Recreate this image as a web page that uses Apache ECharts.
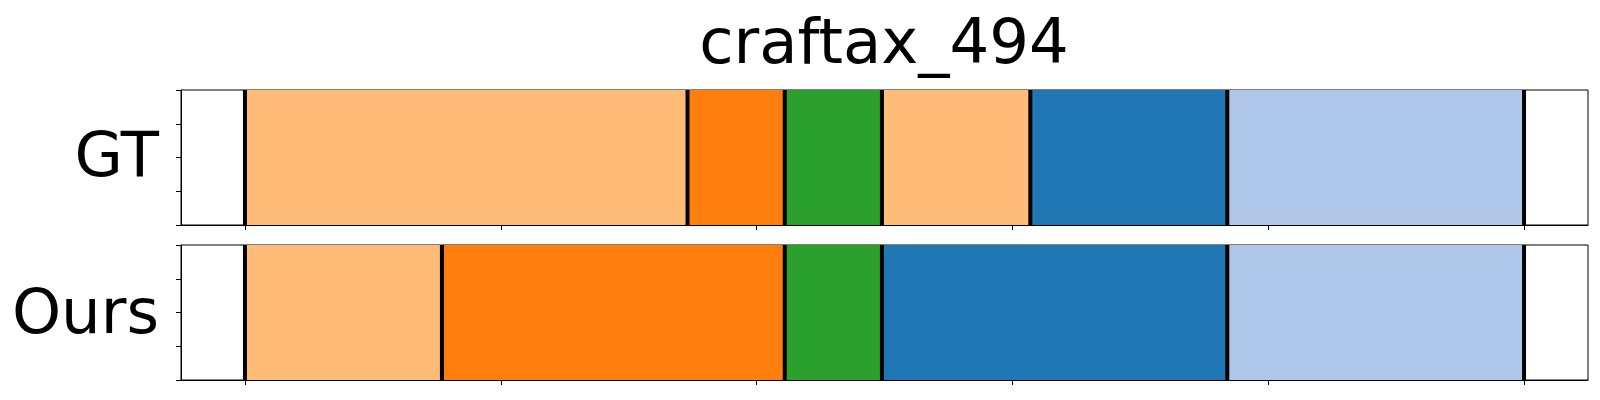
<!DOCTYPE html>
<html><head><meta charset="utf-8">
<script src="https://cdn.jsdelivr.net/npm/echarts@6/dist/echarts.min.js"></script>
<style>html,body{margin:0;padding:0;background:#fff}#c{width:1600px;height:400px}</style>
</head><body><div id="c"></div>
<script>
const chartTitle = 'craftax_494';
const rowLabels = ['GT', 'Ours'];
const gtBounds = [0, 173, 211, 249, 307, 384, 500];
const gtClasses = [0, 1, 2, 0, 3, 4];
const oursBounds = [0, 77, 211, 249, 384, 500];
const oursClasses = [0, 1, 2, 3, 4];
const classColors = ['#ffbb78', '#ff7f0e', '#2ca02c', '#1f77b4', '#aec7e8'];
const xTicks = [0, 100, 200, 300, 400, 500];
const xMin = -25, xMax = 525;

function segs(bounds, classes) {
  return classes.map((c, i) => [bounds[i], bounds[i + 1], c]);
}
const rows = [segs(gtBounds, gtClasses), segs(oursBounds, oursClasses)];
const bounds = [gtBounds, oursBounds];

const FONT = '"DejaVu Sans", sans-serif';
const FS = 62.5;
const grids = [
  { left: 181, top: 90, width: 1407, height: 135 },
  { left: 181, top: 245, width: 1407, height: 135 }
];

const option = {
  animation: false,
  backgroundColor: '#fff',
  grid: grids.map(g => Object.assign({ show: true, borderColor: '#000', borderWidth: 1, backgroundColor: 'transparent' }, g)),
  xAxis: grids.map((g, i) => ({
    type: 'value', gridIndex: i, min: xMin, max: xMax,
    axisLine: { show: true, onZero: false, lineStyle: { color: '#000', width: 1 } },
    axisTick: { show: true, customValues: xTicks, length: 5, lineStyle: { color: '#000', width: 1 } },
    axisLabel: { show: false },
    splitLine: { show: false }
  })),
  yAxis: grids.map((g, i) => ({
    type: 'value', gridIndex: i, min: 0, max: 1, interval: 0.25,
    axisLine: { show: true, onZero: false, lineStyle: { color: '#000', width: 1 } },
    axisTick: { show: true, length: 5, lineStyle: { color: '#000', width: 1 } },
    axisLabel: { show: false },
    splitLine: { show: false }
  })),
  series: [].concat(
    rows.map((data, i) => ({
      type: 'custom', xAxisIndex: i, yAxisIndex: i, data: data, z: 2,
      encode: { x: [0, 1] },
      renderItem(params, api) {
        const s = api.coord([api.value(0), 0]);
        const e = api.coord([api.value(1), 1]);
        return { type: 'rect', shape: { x: s[0], y: e[1], width: e[0] - s[0], height: s[1] - e[1] },
          style: { fill: classColors[api.value(2)] } };
      }
    })),
    bounds.map((b, i) => ({
      type: 'custom', xAxisIndex: i, yAxisIndex: i, data: b.map(v => [v]), z: 3,
      encode: { x: 0 },
      renderItem(params, api) {
        const s = api.coord([api.value(0), 0]);
        const e = api.coord([api.value(0), 1]);
        return { type: 'line', shape: { x1: s[0], y1: s[1], x2: e[0], y2: e[1] },
          style: { stroke: '#000', lineWidth: 4 } };
      }
    }))
  ),
  graphic: [
    { type: 'text', x: 884, y: 41, style: { text: chartTitle, fontSize: FS, fontFamily: FONT, fill: '#000', align: 'center', verticalAlign: 'middle' } },
    { type: 'text', x: 159, y: 154, style: { text: rowLabels[0], fontSize: FS, fontFamily: FONT, fill: '#000', align: 'right', verticalAlign: 'middle' } },
    { type: 'text', x: 159, y: 311, style: { text: rowLabels[1], fontSize: FS, fontFamily: FONT, fill: '#000', align: 'right', verticalAlign: 'middle' } }
  ]
};
const chart = echarts.init(document.getElementById('c'), null, { renderer: 'svg' });
chart.setOption(option);
</script></body></html>
